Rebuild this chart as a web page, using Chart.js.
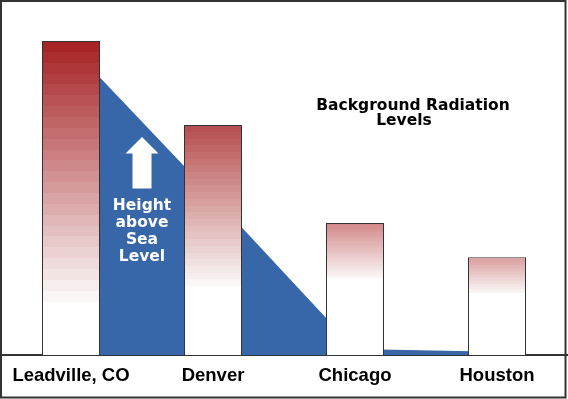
<!DOCTYPE html>
<html>
<head>
<meta charset="utf-8">
<title>Background Radiation Levels</title>
<script src="https://cdn.jsdelivr.net/npm/chart.js@4/dist/chart.umd.min.js"></script>
<style>
  html, body { margin: 0; padding: 0; background: #fff; }
  canvas { display: block; }
</style>
</head>
<body>
<canvas id="chart" width="568" height="399"></canvas>
<script>
// data (relative units, Leadville bar ~ 100)
const cities = ['Leadville, CO', 'Denver', 'Chicago', 'Houston'];
const radiationLevel = [100.1, 73.3, 42.1, 31.2];
const elevationLevel = [98.2, 50.5, 1.9, 1.0];
const yMax = 110;

// bar shading: colour at the top of each bar and where it has faded to white
const barTopColors = [[166, 36, 38], [183, 80, 80], [212, 138, 138], [219, 158, 158]];
const fadeFractions = [0.83, 0.70, 0.42, 0.37];
const BLUE = '#3766a9';
const FONT = '"Liberation Sans", Arial, Helvetica, sans-serif';
const NOTE_FONT = '"DejaVu Sans", "Liberation Sans", sans-serif';

function barFill(context) {
  const chart = context.chart;
  const i = context.dataIndex;
  if (!chart.chartArea || i === undefined) return 'rgb(168,38,40)';
  const y = chart.scales.y;
  const top = y.getPixelForValue(radiationLevel[i]);
  const base = y.getPixelForValue(0);
  const frac = fadeFractions[i];
  const [r, g, b] = barTopColors[i];
  const grad = chart.ctx.createLinearGradient(0, top, 0, base);
  const steps = 24;
  for (let s = 0; s < steps; s++) {
    const m = s / (steps - 1);
    const c = 'rgb(' + Math.round(r + (250 - r) * m) + ',' +
      Math.round(g + (246 - g) * m) + ',' + Math.round(b + (246 - b) * m) + ')';
    grad.addColorStop(frac * s / steps, c);
    grad.addColorStop(frac * (s + 1) / steps, c);
  }
  grad.addColorStop(frac, '#fff');
  grad.addColorStop(1, '#fff');
  return grad;
}

// labels, arrow and frame
const decorations = {
  id: 'decorations',
  afterDraw(chart) {
    const ctx = chart.ctx;
    const x = chart.scales.x;
    ctx.save();

    // up arrow + caption on the blue area
    const ax = x.getPixelForValue(0.5);
    ctx.fillStyle = '#fff';
    ctx.beginPath();
    ctx.moveTo(ax, 137);
    ctx.lineTo(ax + 16.5, 153.5);
    ctx.lineTo(ax + 9.5, 153.5);
    ctx.lineTo(ax + 9.5, 188.5);
    ctx.lineTo(ax - 9.5, 188.5);
    ctx.lineTo(ax - 9.5, 153.5);
    ctx.lineTo(ax - 16.5, 153.5);
    ctx.closePath();
    ctx.fill();

    ctx.font = 'bold 15.5px ' + NOTE_FONT;
    ctx.textAlign = 'center';
    ctx.textBaseline = 'alphabetic';
    ['Height', 'above', 'Sea', 'Level'].forEach((t, k) => {
      ctx.fillText(t, ax, 209.5 + k * 17);
    });

    // title text
    ctx.fillStyle = '#000';
    ctx.fillText('Background Radiation', 413, 110);
    ctx.fillText('Levels', 404, 124.5);

    // outer frame
    ctx.strokeStyle = '#333';
    ctx.lineWidth = 2;
    ctx.strokeRect(1, 1, 564.5, 396.5);
    ctx.restore();
  }
};

new Chart(document.getElementById('chart'), {
  data: {
    labels: cities,
    datasets: [
      {
        type: 'bar',
        label: 'Background radiation',
        data: radiationLevel,
        backgroundColor: barFill,
        borderColor: '#333',
        borderWidth: 1,
        categoryPercentage: 1,
        barPercentage: 0.4085,
        order: 1
      },
      {
        type: 'line',
        label: 'Height above sea level',
        data: elevationLevel,
        fill: 'origin',
        backgroundColor: BLUE,
        borderColor: 'rgba(0,0,0,0)',
        borderWidth: 1,
        pointRadius: 0,
        tension: 0,
        order: 2
      }
    ]
  },
  options: {
    responsive: false,
    animation: false,
    layout: { padding: { top: 10, bottom: 1.8, left: 0, right: 0 } },
    scales: {
      x: {
        grid: { display: false, drawTicks: false },
        border: { display: true, color: '#333', width: 2 },
        ticks: {
          color: '#000',
          padding: 10,
          font: { family: FONT, size: 18.5, weight: 'bold' }
        }
      },
      y: {
        display: false,
        min: 0,
        max: yMax
      }
    },
    plugins: {
      legend: { display: false },
      tooltip: { enabled: false }
    }
  },
  plugins: [decorations]
});
</script>
</body>
</html>
